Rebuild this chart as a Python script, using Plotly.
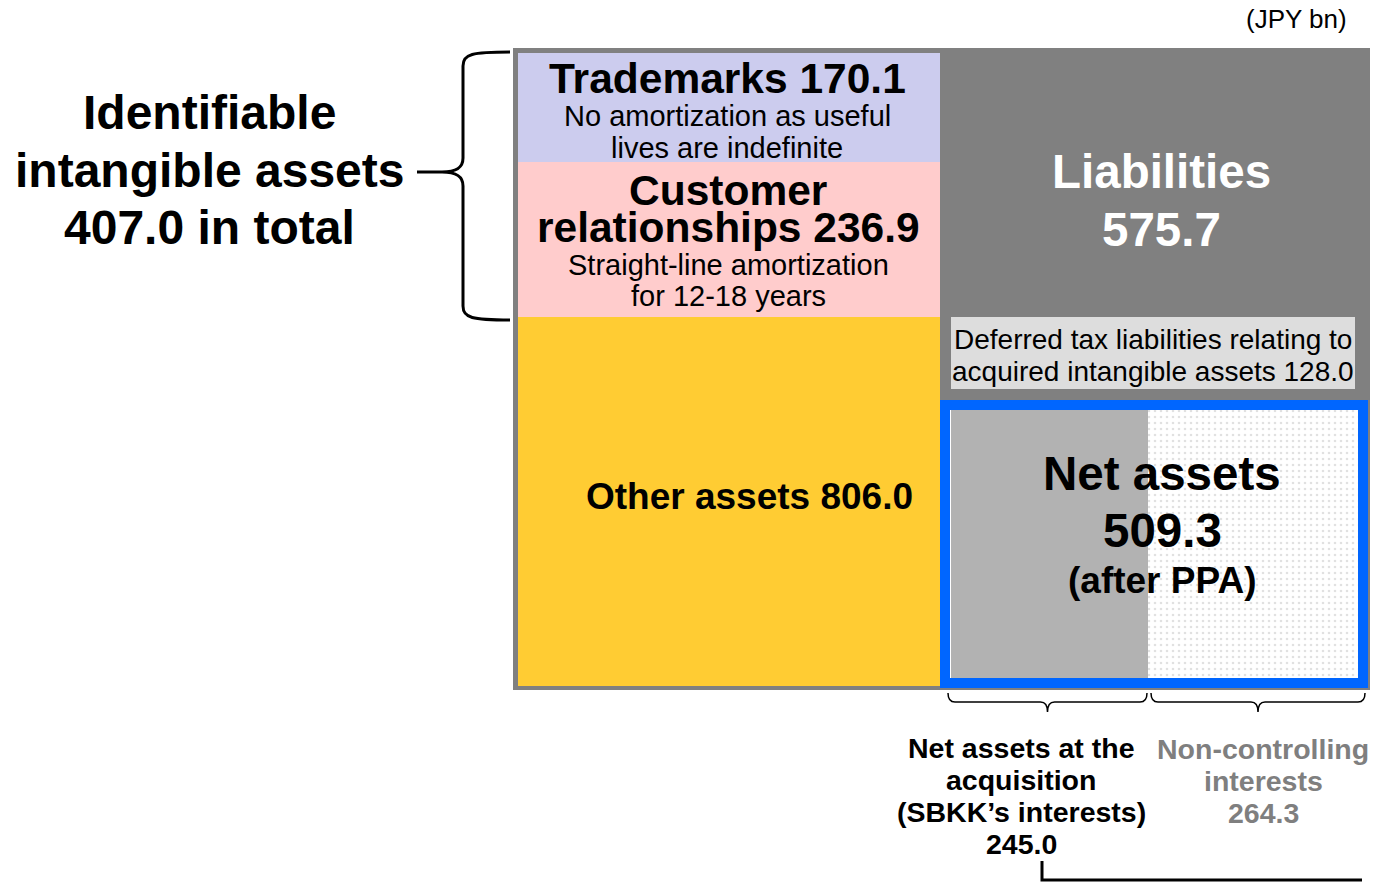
import plotly.graph_objects as go

# ---------------- data ----------------
asset_labels = ["Trademarks", "Customer relationships", "Other assets"]
asset_values = [170.1, 236.9, 806.0]
asset_notes = [["No amortization as useful", "lives are indefinite"],
               ["Straight-line amortization", "for 12-18 years"],
               []]
intangible_total = 407.0
liabilities_value = 575.7
deferred_tax_value = 128.0
net_assets_value = 509.3
sbkk_interest_value = 245.0
nci_value = 264.3
unit_label = "(JPY bn)"

# ---------------- layout geometry (schematic, pixel space) ----------------
W, H = 1373, 882
FONT = "Liberation Sans, Arial, Helvetica, sans-serif"
frame = dict(x0=513, x1=1370, y0=48, y1=690)
left_col = dict(x0=518, x1=940)
asset_bands = [(53, 162), (162, 317), (317, 686)]
asset_colors = ["#CCCCEE", "#FFCCCC", "#FFCC33"]
liab_color = "#808080"
dtl_box = dict(x0=951, x1=1355, y0=317, y1=389)
na_outer = dict(x0=945, x1=1363, y0=405, y1=683)
na_inner = dict(x0=951, x1=1358, y0=410, y1=678)
na_split = 1148

fig = go.Figure()

shapes = []
def rect(x0, y0, x1, y1, fill, layer="below"):
    shapes.append(dict(type="rect", xref="x", yref="y", x0=x0, x1=x1, y0=y0, y1=y1,
                       fillcolor=fill, layer=layer, line=dict(width=0)))

# frame / liabilities background
rect(frame["x0"], frame["y0"], frame["x1"], frame["y1"], liab_color)
# asset blocks
for (y0, y1), c in zip(asset_bands, asset_colors):
    rect(left_col["x0"], y0, left_col["x1"], y1, c)
# deferred tax box
rect(dtl_box["x0"], dtl_box["y0"], dtl_box["x1"], dtl_box["y1"], "#DDDDDD")
# net assets box
rect(na_outer["x0"], na_outer["y0"], na_outer["x1"], na_outer["y1"], "#FFFFFF")
rect(na_inner["x0"], na_inner["y0"], na_split, na_inner["y1"], "#B2B2B2")

# NCI dotted part as a patterned bar
fig.add_trace(go.Bar(
    x=[(na_split + na_inner["x1"]) / 2], width=[na_inner["x1"] - na_split],
    base=[na_inner["y0"]], y=[na_inner["y1"] - na_inner["y0"]],
    marker=dict(color="#FFFFFF", line=dict(width=0),
                pattern=dict(shape=".", size=6, solidity=0.15,
                             fgcolor="#C4C4C4", bgcolor="#FFFFFF")),
    hoverinfo="skip", showlegend=False))

# blue border
shapes.append(dict(type="rect", xref="x", yref="y", layer="above",
                   x0=na_outer["x0"], x1=na_outer["x1"], y0=na_outer["y0"], y1=na_outer["y1"],
                   line=dict(color="#0066FF", width=10), fillcolor="rgba(0,0,0,0)"))

# curly brace on the left
brace = ("M 510,52 C 472,52 463,54 463,66 L 463,158 C 463,168 456,172 442,172 L 417,172 "
         "M 442,172 C 456,172 463,176 463,186 L 463,306 C 463,318 472,320 510,320")
shapes.append(dict(type="path", xref="x", yref="y", path=brace, layer="above",
                   line=dict(color="black", width=3)))

# bottom brackets under net assets
def bracket(xa, xb, top=693, mid=702, tip=712):
    xm = (xa + xb) / 2
    return (f"M {xa},{top} Q {xa},{mid} {xa+7},{mid} L {xm-7},{mid} Q {xm},{mid} {xm},{tip} "
            f"Q {xm},{mid} {xm+7},{mid} L {xb-7},{mid} Q {xb},{mid} {xb},{top}")
for xa, xb in [(948, 1147), (1151, 1365)]:
    shapes.append(dict(type="path", xref="x", yref="y", path=bracket(xa, xb), layer="above",
                       line=dict(color="black", width=1.5)))

# L-shaped connector at the bottom
shapes.append(dict(type="path", xref="x", yref="y", path="M 1042,861 L 1042,880 L 1362,880",
                   layer="above", line=dict(color="black", width=3)))

annotations = []
def txt(x, y, s, size, bold=False, color="black", xanchor="center"):
    annotations.append(dict(x=x, y=y, xref="x", yref="y", text=(f"<b>{s}</b>" if bold else s),
                            showarrow=False, xanchor=xanchor, yanchor="middle",
                            font=dict(family=FONT, size=size, color=color)))

txt(1349, 19, unit_label, 26, xanchor="right")

txt(209, 112, "Identifiable", 48, True)
txt(209, 170, "intangible assets", 48, True)
txt(209, 227, f"{intangible_total:.1f} in total", 48, True)

txt(727, 78, f"{asset_labels[0]} {asset_values[0]:.1f}", 42.5, True)
txt(727, 116, asset_notes[0][0], 29)
txt(727, 148, asset_notes[0][1], 29)

txt(728, 190, "Customer", 42.5, True)
txt(728, 227, f"relationships {asset_values[1]:.1f}", 42.5, True)
txt(728, 265, asset_notes[1][0], 29)
txt(728, 296, asset_notes[1][1], 29)

txt(749, 496, f"{asset_labels[2]} {asset_values[2]:.1f}", 37, True)

txt(1161, 171, "Liabilities", 47.5, True, "white")
txt(1161, 229, f"{liabilities_value:.1f}", 47.5, True, "white")

txt(1153, 339, "Deferred tax liabilities relating to", 28)
txt(1153, 371, f"acquired intangible assets {deferred_tax_value:.1f}", 28)

txt(1162, 473, "Net assets", 47.5, True)
txt(1162, 530, f"{net_assets_value:.1f}", 47.5, True)
txt(1162, 580, "(after PPA)", 37, True)

for i, s in enumerate(["Net assets at the", "acquisition", "(SBKK\u2019s interests)", f"{sbkk_interest_value:.1f}"]):
    txt(1021, 748 + 32 * i, s, 28.5, True)
for i, s in enumerate(["Non-controlling", "interests", f"{nci_value:.1f}"]):
    txt(1263, 749 + 32 * i, s, 28.5, True, "#7F7F7F")

fig.update_layout(
    width=W, height=H, margin=dict(l=0, r=0, t=0, b=0),
    paper_bgcolor="white", plot_bgcolor="white",
    xaxis=dict(range=[0, W], visible=False, fixedrange=True),
    yaxis=dict(range=[H, 0], visible=False, fixedrange=True),
    shapes=shapes, annotations=annotations, showlegend=False, bargap=0,
)

fig.write_html("out.html", config=dict(displayModeBar=False),
               post_script="document.body.style.margin='0';document.body.style.overflow='hidden';")
